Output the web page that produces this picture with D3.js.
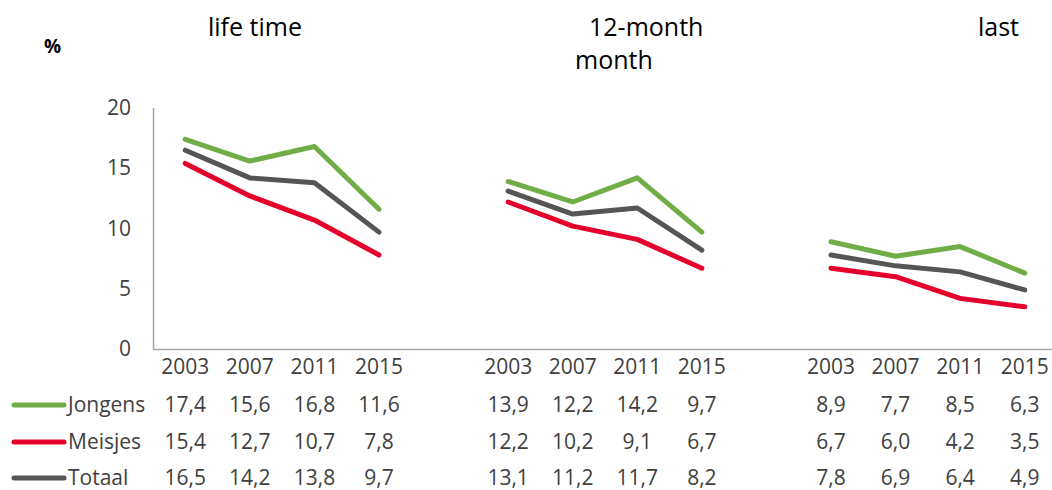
<!DOCTYPE html>
<html>
<head>
<meta charset="utf-8">
<script src="https://cdn.jsdelivr.net/npm/d3@7"></script>
<style>
  body { margin: 0; background: #fff; }
  svg { display: block; font-family: "Open Sans", sans-serif; }
</style>
</head>
<body>
<svg width="1052" height="490"></svg>
<script>
// periods and years
var periods = ["life time", "12-month", "last month"];
var years = ["2003", "2007", "2011", "2015"];
var seriesNames = ["Jongens", "Meisjes", "Totaal"];
var seriesColors = ["#70ad47", "#e4002b", "#555555"];
var yTicks = [0, 5, 10, 15, 20];

// values per series, per period (4 years each)
var jongens = [[17.4, 15.6, 16.8, 11.6], [13.9, 12.2, 14.2, 9.7], [8.9, 7.7, 8.5, 6.3]];
var meisjes = [[15.4, 12.7, 10.7, 7.8], [12.2, 10.2, 9.1, 6.7], [6.7, 6.0, 4.2, 3.5]];
var totaal = [[16.5, 14.2, 13.8, 9.7], [13.1, 11.2, 11.7, 8.2], [7.8, 6.9, 6.4, 4.9]];

(function() {
    'use strict';
    var svg = d3.select("svg");
    var allSeries = [jongens, meisjes, totaal];

    // 14 slots: 4 years, gap, 4 years, gap, 4 years
    var slots = [];
    periods.forEach(function(p, pi) {
        years.forEach(function(yr) { slots.push(pi + "-" + yr); });
        if (pi < periods.length - 1) slots.push("gap" + pi);
    });

    var x = d3.scaleBand()
        .domain(slots)
        .range([153, 1057]);

    var y = d3.scaleLinear()
        .domain([0, 20])
        .range([349, 108]);

    function cx(pi, yi) { return x(pi + "-" + years[yi]) + x.bandwidth() / 2; }

    // axes
    svg.append("line")
        .attr("x1", 153.5).attr("x2", 153.5)
        .attr("y1", y(20)).attr("y2", y(0))
        .attr("stroke", "#a6a6a6").attr("stroke-width", 1.5);
    svg.append("line")
        .attr("x1", 153).attr("x2", 1052)
        .attr("y1", y(0) + 0.5).attr("y2", y(0) + 0.5)
        .attr("stroke", "#a6a6a6").attr("stroke-width", 1.5);

    svg.append("g").selectAll("text")
        .data(yTicks)
        .enter().append("text")
        .attr("x", 131)
        .attr("y", function(d) { return y(d) + 7; })
        .attr("text-anchor", "end")
        .attr("font-size", 21)
        .attr("fill", "#404040")
        .text(function(d) { return d; });

    svg.append("text")
        .attr("x", 44).attr("y", 53)
        .attr("font-size", 19).attr("font-weight", "bold")
        .attr("fill", "#000")
        .text("%");

    // titles
    var titles = [
        { t: "life time", x: 208, y: 36 },
        { t: "12-month", x: 589, y: 36 },
        { t: "month", x: 575, y: 69 },
        { t: "last", x: 978, y: 36 }
    ];
    svg.append("g").selectAll("text")
        .data(titles)
        .enter().append("text")
        .attr("x", function(d) { return d.x; })
        .attr("y", function(d) { return d.y; })
        .attr("font-size", 25)
        .attr("fill", "#000")
        .text(function(d) { return d.t; });

    // lines
    var line = d3.line()
        .x(function(d) { return d.x; })
        .y(function(d) { return y(d.v); });

    var lineG = svg.append("g");
    [2, 1, 0].forEach(function(si) {
        periods.forEach(function(p, pi) {
            var pts = allSeries[si][pi].map(function(v, yi) { return { x: cx(pi, yi), v: v }; });
            lineG.append("path")
                .datum(pts)
                .attr("d", line)
                .attr("fill", "none")
                .attr("stroke", seriesColors[si])
                .attr("stroke-width", 5)
                .attr("stroke-linecap", "round")
                .attr("stroke-linejoin", "round");
        });
    });

    // data table: year row + one row per series
    var rowY = [374, 412, 449, 485];
    var table = svg.append("g")
        .attr("font-size", 21)
        .attr("fill", "#404040")
        .attr("text-anchor", "middle");

    periods.forEach(function(p, pi) {
        years.forEach(function(yr, yi) {
            table.append("text")
                .attr("x", cx(pi, yi))
                .attr("y", rowY[0])
                .text(yr);
            allSeries.forEach(function(s, si) {
                table.append("text")
                    .attr("x", cx(pi, yi))
                    .attr("y", rowY[si + 1])
                    .text(s[pi][yi].toFixed(1).replace(".", ","));
            });
        });
    });

    // legend keys
    seriesNames.forEach(function(name, si) {
        svg.append("line")
            .attr("x1", 14).attr("x2", 64)
            .attr("y1", rowY[si + 1] - 7).attr("y2", rowY[si + 1] - 7)
            .attr("stroke", seriesColors[si])
            .attr("stroke-width", 5)
            .attr("stroke-linecap", "round");
        svg.append("text")
            .attr("x", 68)
            .attr("y", rowY[si + 1])
            .attr("font-size", 21)
            .attr("fill", "#404040")
            .text(name);
    });
}());
</script>
</body>
</html>
